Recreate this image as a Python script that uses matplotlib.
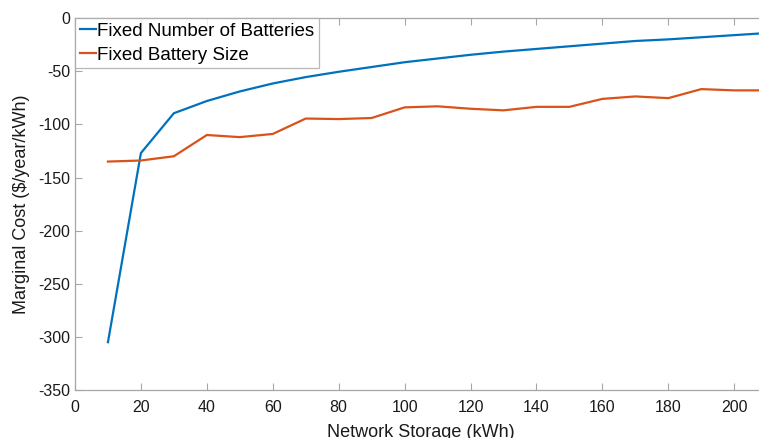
import numpy as np
import matplotlib.pyplot as plt

plt.rcParams['font.family'] = ['Liberation Sans', 'DejaVu Sans']
plt.rcParams['axes.unicode_minus'] = False

storage = np.arange(10, 220, 10)
fixed_number = [-305, -127, -89.5, -78, -69, -61.5, -55.5, -50.5, -46, -41.5,
                -38, -34.5, -31.5, -29, -26.5, -24, -21.5, -20, -18, -16, -14]
fixed_size = [-135, -134, -130, -110, -112, -109, -94.5, -95, -94, -84,
              -83, -85.3, -86.8, -83.5, -83.5, -76, -73.7, -75.3, -66.8, -68, -68]

fig = plt.figure(figsize=(7.59, 4.38), dpi=100)
ax = fig.add_axes([0.0988, 0.1096, 0.912, 0.849])

ax.plot(storage, fixed_number, color='#0072BD', lw=1.6, label='Fixed Number of Batteries')
ax.plot(storage, fixed_size, color='#D95319', lw=1.6, label='Fixed Battery Size')

ax.set_xlim(0, 210)
ax.set_ylim(-350, 0)
ax.set_xticks(np.arange(0, 201, 20))
ax.set_yticks(np.arange(-350, 1, 50))

for s in ax.spines.values():
    s.set_color('#a6a6a6')
    s.set_linewidth(0.9)
ax.tick_params(direction='in', length=5, color='#a6a6a6', labelsize=11.5,
               labelcolor='#1a1a1a', top=True, right=True)
ax.tick_params(axis='x', pad=7)
ax.tick_params(axis='y', pad=3.5)

ax.set_xlabel('Network Storage (kWh)', fontsize=13, color='#1a1a1a', labelpad=7)
ax.set_ylabel('Marginal Cost ($/year/kWh)', fontsize=13, color='#1a1a1a', labelpad=6)

leg = ax.legend(loc='upper left', fontsize=13.5, frameon=True, fancybox=False,
                borderaxespad=0, handlelength=0.85, handletextpad=0.1,
                borderpad=0.25, labelspacing=0.35)
leg.get_frame().set_edgecolor('#a6a6a6')
leg.get_frame().set_linewidth(0.9)

fig.savefig('out.png', dpi=100)
